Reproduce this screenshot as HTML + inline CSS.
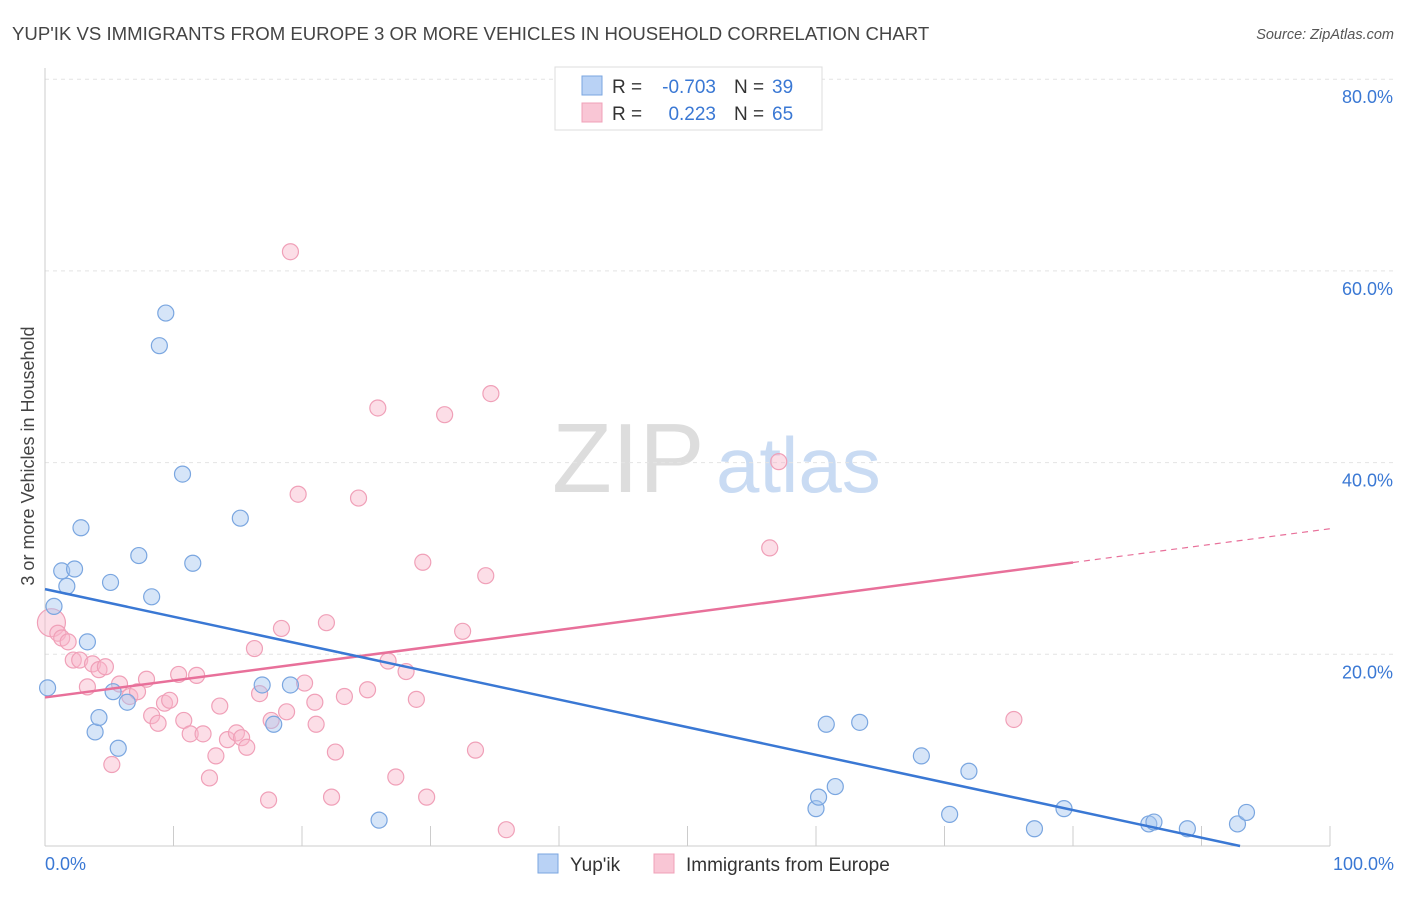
<!DOCTYPE html>
<html><head><meta charset="utf-8">
<style>
body{margin:0;background:#fff;font-family:"Liberation Sans",sans-serif;}
svg text{font-family:"Liberation Sans",sans-serif;}
</style></head>
<body>
<svg id="chart" width="1406" height="892" viewBox="0 0 1406 892" xmlns="http://www.w3.org/2000/svg">
<text x="12" y="40" font-size="18.6" fill="#444">YUP'IK VS IMMIGRANTS FROM EUROPE 3 OR MORE VEHICLES IN HOUSEHOLD CORRELATION CHART</text>
<text x="1394" y="39" font-size="14.5" fill="#555" text-anchor="end" font-style="italic">Source: ZipAtlas.com</text>
<g>
<text x="552" y="492" font-size="98" fill="#ddd" font-family="Liberation Serif, serif">ZIP</text>
<text x="716" y="492" font-size="78" fill="#c9dbf3">atlas</text>
</g>
<text transform="translate(34,456) rotate(-90)" font-size="18" fill="#444" text-anchor="middle">3 or more Vehicles in Household</text>
<g id="grid"></g>
<g id="axes"></g>
<g id="marks"></g>
<g>
<rect x="555" y="67" width="267" height="63" fill="#fff" stroke="#ddd"/>
<rect x="582" y="76" width="20" height="19" fill="#b9d2f5" stroke="#7aa6e0"/>
<rect x="582" y="103" width="20" height="19" fill="#f9c6d5" stroke="#f0a0b8"/>
<text x="612" y="93" font-size="19" fill="#333">R =</text>
<text x="716" y="93" font-size="19" fill="#3a78d4" text-anchor="end">-0.703</text>
<text x="734" y="93" font-size="19" fill="#333">N =</text>
<text x="772" y="93" font-size="19" fill="#3a78d4">39</text>
<text x="612" y="120" font-size="19" fill="#333">R =</text>
<text x="716" y="120" font-size="19" fill="#3a78d4" text-anchor="end">0.223</text>
<text x="734" y="120" font-size="19" fill="#333">N =</text>
<text x="772" y="120" font-size="19" fill="#3a78d4">65</text>
</g>
<g>
<rect x="538" y="854" width="20" height="19" fill="#b9d2f5" stroke="#7aa6e0"/>
<text x="570" y="871" font-size="19" fill="#333">Yup'ik</text>
<rect x="654" y="854" width="20" height="19" fill="#f9c6d5" stroke="#f0a0b8"/>
<text x="686" y="871" font-size="19" fill="#333">Immigrants from Europe</text>
</g>
</svg>
<script>
const yTicks=[20,40,60,80];
const yTickLabels=["20.0%","40.0%","60.0%","80.0%"];
const xTickLabels=["0.0%","100.0%"];
const blueX=[0.2,0.7,1.3,1.7,2.3,2.8,3.3,3.9,4.2,5.1,5.3,5.7,6.4,7.3,8.3,8.9,9.4,10.7,11.5,15.2,16.9,17.8,19.1,26.0,60.0,60.2,60.8,61.5,63.4,68.2,70.4,71.9,77.0,79.3,85.9,86.3,88.9,92.8,93.5];
const blueY=[16.5,25.0,28.7,27.1,28.9,33.2,21.3,11.9,13.4,27.5,16.1,10.2,15.0,30.3,26.0,52.2,55.6,38.8,29.5,34.2,16.8,12.7,16.8,2.7,3.9,5.1,12.7,6.2,12.9,9.4,3.3,7.8,1.8,3.9,2.3,2.5,1.8,2.3,3.5];
const pinkX=[0.5,1.0,1.3,1.8,2.2,2.7,3.3,3.7,4.2,4.7,5.2,5.8,6.6,7.2,7.9,8.3,8.8,9.3,9.7,10.4,10.8,11.3,11.8,12.3,12.8,13.3,13.6,14.2,14.9,15.3,15.7,16.3,16.7,17.4,17.6,18.4,18.8,19.1,19.7,20.2,21.0,21.1,21.9,22.6,22.3,23.3,24.4,25.1,25.9,26.7,27.3,28.1,28.9,29.4,29.7,31.1,32.5,33.5,34.3,34.7,35.9,56.4,57.1,75.4];
const pinkY=[23.3,22.2,21.7,21.3,19.4,19.4,16.6,19.0,18.4,18.7,8.5,16.9,15.6,16.1,17.4,13.6,12.8,14.9,15.2,17.9,13.1,11.7,17.8,11.7,7.1,9.4,14.6,11.1,11.8,11.3,10.3,20.6,15.9,4.8,13.1,22.7,14.0,62.0,36.7,17.0,15.0,12.7,23.3,9.8,5.1,15.6,36.3,16.3,45.7,19.3,7.2,18.2,15.3,29.6,5.1,45.0,22.4,10.0,28.2,47.2,1.7,31.1,40.1,13.2];
const blueTrend=[26.8,0];const blueTrendEnd=93;
const pinkTrend=[15.5,33.1];const pinkSolidEnd=80;
const NS="http://www.w3.org/2000/svg";
const X=v=>45+v*12.85, Y=v=>846-v*9.585;
function mk(tag,attrs,parent){const e=document.createElementNS(NS,tag);for(const k in attrs)e.setAttribute(k,attrs[k]);document.getElementById(parent).appendChild(e);return e;}
yTicks.forEach((t,i)=>{
 const l=mk('line',{x1:45,x2:1394,y1:Y(t),y2:Y(t),stroke:'#e4e4e4','stroke-dasharray':'4 4'},'grid');
 
 
 const tx=mk('text',{x:1393,y:Y(t)+24,'font-size':18,fill:'#3a78d4','text-anchor':'end'},'axes');
 tx.textContent=yTickLabels[i];
 
 
});
const ax=mk('line',{x1:45,x2:1330,y1:846,y2:846,stroke:'#ccc'},'axes');


const ay=mk('line',{x1:45,x2:45,y1:68,y2:846,stroke:'#ccc'},'axes');


for(let i=0;i<=10;i++){
 const t=mk('line',{x1:X(i*10),x2:X(i*10),y1:826,y2:846,stroke:'#ccc'},'axes');
 
 
}
[[0,'start',45],[100,'end',1394]].forEach((d,i)=>{
 const tx=mk('text',{x:d[2],y:870,'font-size':18,fill:'#3a78d4','text-anchor':d[1]},'axes');
 tx.textContent=xTickLabels[i];
 
 
});
pinkX.forEach((x,i)=>{
 const c=mk('circle',{cx:X(x),cy:Y(pinkY[i]),r:i===0?14:8,fill:'rgba(248,182,202,0.45)',stroke:'#f0a0b8','stroke-width':1.2},'marks');
 
 
});
blueX.forEach((x,i)=>{
 const c=mk('circle',{cx:X(x),cy:Y(blueY[i]),r:8,fill:'rgba(165,198,240,0.45)',stroke:'#7aa6e0','stroke-width':1.2},'marks');
 
 
});
const pAt=v=>pinkTrend[0]+(pinkTrend[1]-pinkTrend[0])*v/100;
const p1=mk('line',{x1:X(0),y1:Y(pAt(0)),x2:X(pinkSolidEnd),y2:Y(pAt(pinkSolidEnd)),stroke:'#e8709a','stroke-width':2.5},'marks');


const p2=mk('line',{x1:X(pinkSolidEnd),y1:Y(pAt(pinkSolidEnd)),x2:X(100),y2:Y(pAt(100)),stroke:'#e8709a','stroke-width':1.2,'stroke-dasharray':'6 5'},'marks');


const bAt=v=>blueTrend[0]+(blueTrend[1]-blueTrend[0])*v/blueTrendEnd;
const b1=mk('line',{x1:X(0),y1:Y(bAt(0)),x2:X(blueTrendEnd),y2:Y(bAt(blueTrendEnd)),stroke:'#3a78d4','stroke-width':2.5},'marks');


</script>
</body></html>
